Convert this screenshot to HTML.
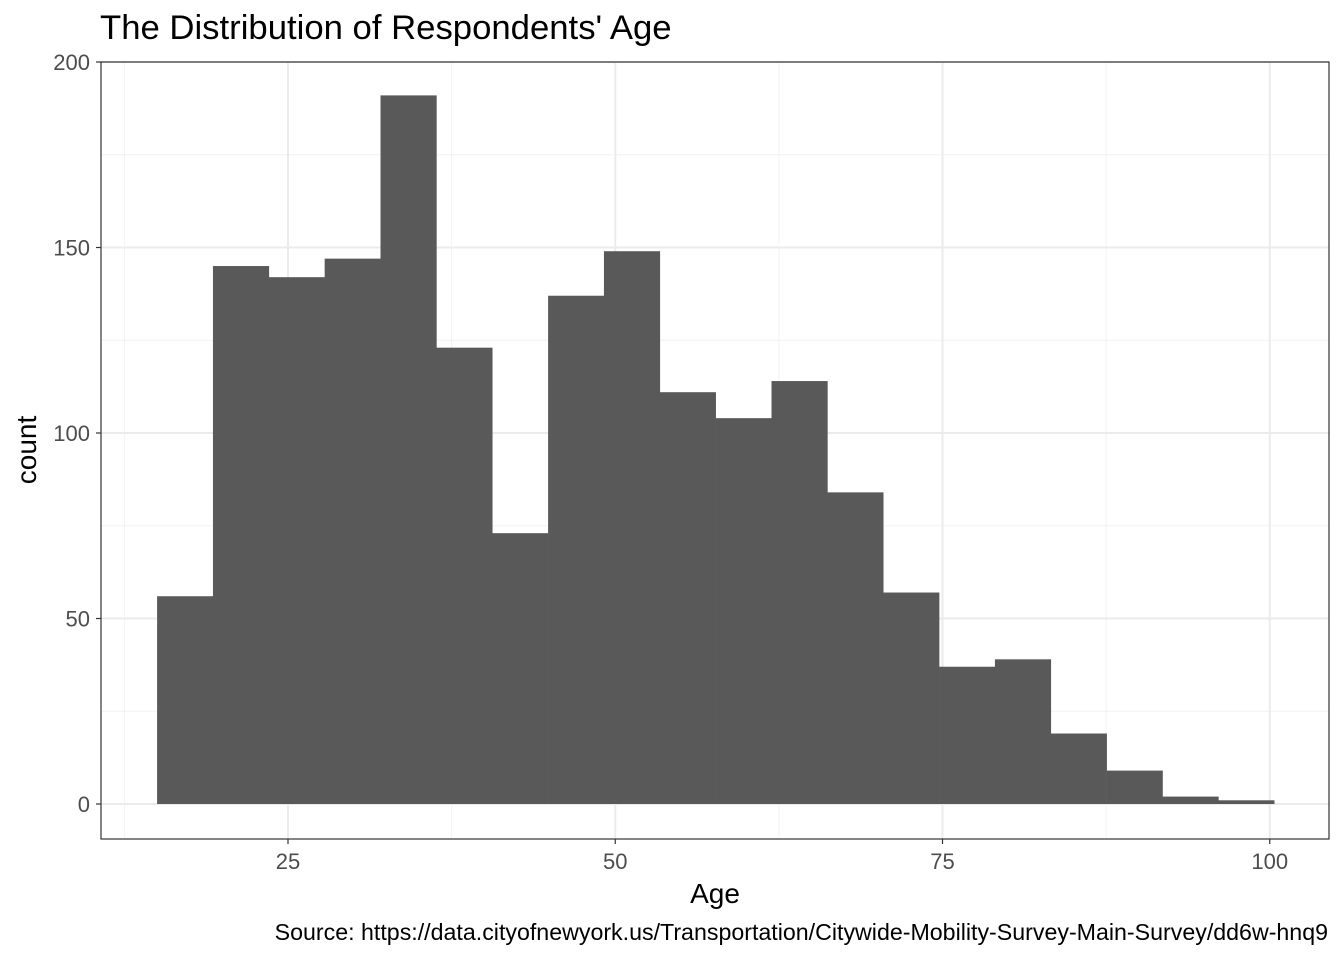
<!DOCTYPE html>
<html><head><meta charset="utf-8"><style>
body{margin:0;background:#fff;font-family:"Liberation Sans",sans-serif}
svg text{font-family:"Liberation Sans",sans-serif}
</style></head><body>
<svg id="chart" width="1344" height="960" xmlns="http://www.w3.org/2000/svg">
<text x="100" y="39" font-size="34.7" fill="#000">The Distribution of Respondents' Age</text>
<g id="grid"></g>
<g id="bars"></g>
<rect x="101" y="62" width="1228" height="777" fill="none" stroke="#333" stroke-width="1.2"/>
<g id="axes"></g>
<text x="715" y="903" font-size="28" text-anchor="middle" fill="#000">Age</text>
<text transform="translate(36,450) rotate(-90)" font-size="28" text-anchor="middle" fill="#000">count</text>
<text x="1328" y="940" font-size="23.2" text-anchor="end" fill="#000">Source: https://data.cityofnewyork.us/Transportation/Citywide-Mobility-Survey-Main-Survey/dd6w-hnq9</text>
</svg>
<script>
const binStart = 15;
const binWidth = 4.267;
const counts = [56,145,142,147,191,123,73,137,149,111,104,114,84,57,37,39,19,9,2,1];
const xTicks = [25,50,75,100];
const yTicks = [0,50,100,150,200];
const xMinor = [12.5,37.5,62.5,87.5];
const yMinor = [25,75,125,175];
const NS="http://www.w3.org/2000/svg";
const X=v=>288+(v-25)*13.09;
const Y=v=>804-v*3.71;
const L=101,R=1329,T=62,B=839;
function mk(t,a,p){const e=document.createElementNS(NS,t);for(const k in a)e.setAttribute(k,a[k]);p.appendChild(e);return e;}
const g=document.getElementById('grid'),bg=document.getElementById('bars'),ax=document.getElementById('axes');
xMinor.forEach(v=>{const e=mk('line',{x1:X(v),x2:X(v),y1:T,y2:B,stroke:'#f2f2f2','stroke-width':1},g);

});
yMinor.forEach(v=>{const e=mk('line',{x1:L,x2:R,y1:Y(v),y2:Y(v),stroke:'#f2f2f2','stroke-width':1},g);

});
xTicks.forEach(v=>{const e=mk('line',{x1:X(v),x2:X(v),y1:T,y2:B,stroke:'#ebebeb','stroke-width':2},g);


const t=mk('line',{x1:X(v),x2:X(v),y1:B,y2:B+5,stroke:'#333','stroke-width':1.2},ax);


const l=mk('text',{x:X(v),y:B+30,'font-size':22,'text-anchor':'middle',fill:'#4d4d4d'},ax);l.textContent=v;

});
yTicks.forEach(v=>{const e=mk('line',{x1:L,x2:R,y1:Y(v),y2:Y(v),stroke:'#ebebeb','stroke-width':2},g);


const t=mk('line',{x1:L-5,x2:L,y1:Y(v),y2:Y(v),stroke:'#333','stroke-width':1.2},ax);


const l=mk('text',{x:L-11,y:Y(v)+8,'font-size':22,'text-anchor':'end',fill:'#4d4d4d'},ax);l.textContent=v;

});
counts.forEach((c,i)=>{const x0=X(binStart+i*binWidth),x1=X(binStart+(i+1)*binWidth);
const r=mk('rect',{x:x0,y:Y(c),width:x1-x0+0.3,height:Y(0)-Y(c),fill:'#595959'},bg);

});
</script>
</body></html>
